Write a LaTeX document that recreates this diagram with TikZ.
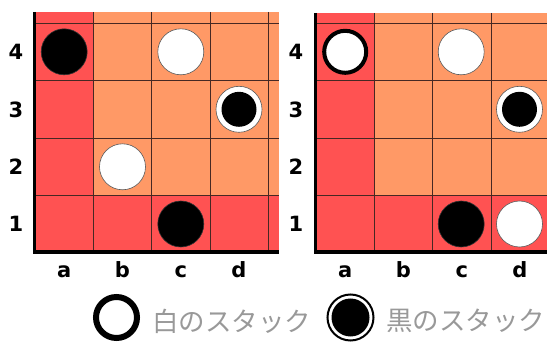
\documentclass[tikz,border=0pt]{standalone}
\usepackage{fontspec}
\setmainfont{DejaVu Sans}
\newfontfamily\jpfont{Noto Sans CJK JP}
\definecolor{cellred}{RGB}{255,82,82}
\definecolor{cellorange}{RGB}{255,153,102}
\definecolor{gridline}{RGB}{70,40,35}
\definecolor{legendgray}{RGB}{153,153,153}
\tikzset{
  stoneblack/.style={circle, minimum size=46pt, inner sep=0pt, fill=black, draw=black!80, line width=0.6pt},
  stonewhite/.style={circle, minimum size=46pt, inner sep=0pt, fill=white, draw=black!65, line width=0.6pt},
  stackblack/.style={circle, minimum size=46pt, inner sep=0pt, fill=white, draw=black!65, line width=0.6pt,
    path picture={\fill[black] (path picture bounding box.center) circle (17.5pt);}},
  stackwhite/.style={circle, minimum size=42pt, inner sep=0pt, fill=white, draw=black, line width=4pt},
  gridln/.style={draw=gridline, line width=0.8pt},
  axisln/.style={draw=black, line width=3.5pt, line join=miter},
  rowlbl/.style={font=\bfseries\fontsize{21}{21}\selectfont, inner sep=0pt},
  collbl/.style={font=\bfseries\fontsize{21}{21}\selectfont, inner sep=0pt, anchor=base},
  legtext/.style={font=\jpfont\fontsize{26.5}{27}\selectfont, text=legendgray, inner sep=0pt, anchor=west},
}
\begin{document}
\begin{tikzpicture}[x=1pt,y=-1pt]
\useasboundingbox (0,0) rectangle (547,342);
% ---------- left board ----------
\fill[cellorange] (35,12) rectangle (279,252);
\fill[cellred] (35,12) rectangle (93.3,252);
\fill[cellred] (35,195.7) rectangle (279,252);
\foreach \x in {93.3,151.6,210,268.3} \draw[gridln] (\x,12) -- (\x,252);
\foreach \y in {23,80.5,138,195.7} \draw[gridln] (35,\y) -- (279,\y);
\draw[axisln] (34.5,12) -- (34.5,252) -- (279,252);
\node[stoneblack] (L-a4) at (64.2,51.8) {};
\node[stonewhite] (L-c4) at (180.8,51.8) {};
\node[stackblack] (L-d3) at (239,109.3) {};
\node[stonewhite] (L-b2) at (122.5,166.8) {};
\node[stoneblack] (L-c1) at (180.8,224) {};
\node[rowlbl] (L-r4) at (16,52) {4};
\node[rowlbl] (L-r3) at (16,110) {3};
\node[rowlbl] (L-r2) at (16,167) {2};
\node[rowlbl] (L-r1) at (16,224) {1};
\node[collbl] (L-ca) at (64.2,277) {a};
\node[collbl] (L-cb) at (122.5,277) {b};
\node[collbl] (L-cc) at (180.8,277) {c};
\node[collbl] (L-cd) at (239,277) {d};
% ---------- right board ----------
\fill[cellorange] (316,13) rectangle (547,252);
\fill[cellred] (316,13) rectangle (374.3,252);
\fill[cellred] (316,195.7) rectangle (547,252);
\foreach \x in {374.3,432.6,491} \draw[gridln] (\x,13) -- (\x,252);
\foreach \y in {23,80.5,138,195.7} \draw[gridln] (316,\y) -- (547,\y);
\draw[axisln] (315.5,13) -- (315.5,252) -- (547,252);
\node[stackwhite] (R-a4) at (345.2,51.8) {};
\node[stonewhite] (R-c4) at (461.2,51.8) {};
\node[stackblack] (R-d3) at (519.5,109.3) {};
\node[stoneblack] (R-c1) at (461.2,224) {};
\node[stonewhite] (R-d1) at (519.5,224) {};
\node[rowlbl] (R-r4) at (296,52) {4};
\node[rowlbl] (R-r3) at (296,110) {3};
\node[rowlbl] (R-r2) at (296,167) {2};
\node[rowlbl] (R-r1) at (296,224) {1};
\node[collbl] (R-ca) at (345.2,277) {a};
\node[collbl] (R-cb) at (403.5,277) {b};
\node[collbl] (R-cc) at (461.8,277) {c};
\node[collbl] (R-cd) at (520,277) {d};
% ---------- legend ----------
\node[circle, minimum size=41pt, inner sep=0pt, fill=white, draw=black, line width=6pt] (leg-w) at (116.5,317.5) {};
\node[legtext] (leg-wt) at (152,321) {白のスタック};
\node[circle, minimum size=46pt, inner sep=0pt, fill=white, draw=black, line width=2pt,
  path picture={\fill[black] (path picture bounding box.center) circle (19pt);}] (leg-b) at (350.5,317.5) {};
\node[legtext] (leg-bt) at (386,321) {黒のスタック};
\end{tikzpicture}
\end{document}
